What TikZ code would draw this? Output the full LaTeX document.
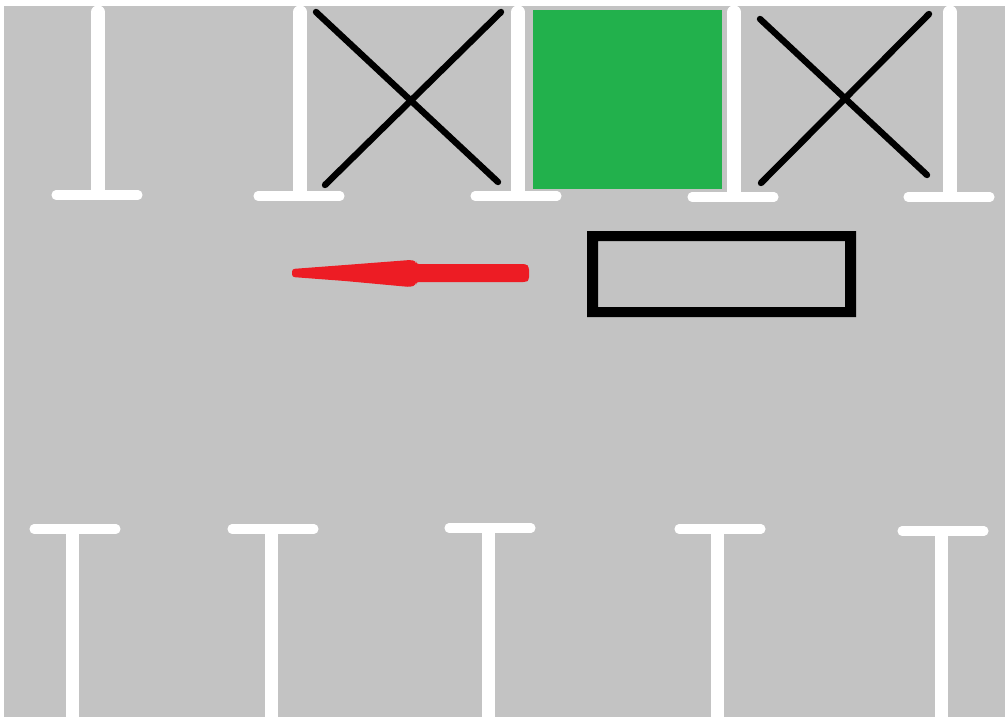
\documentclass[tikz,border=0pt]{standalone}
\usepackage{tikz}
\definecolor{clot}{RGB}{195,195,195}
\definecolor{cfree}{RGB}{34,177,76}
\definecolor{cdir}{RGB}{237,28,36}
\tikzset{
  stem/.style={draw=white, line width=10pt, line cap=round},
  stemcut/.style={draw=white, line width=10pt},
  bar/.style={draw=white, line width=6.8pt, line cap=round},
  taken/.style={draw=black, line width=4.8pt, line cap=round}
}
\begin{document}
\begin{tikzpicture}[x=0.75pt, y=-0.75pt]
    \useasboundingbox (0,0) rectangle (1007,717);
    \fill[white] (0,0) rectangle (1007,717);
    \fill[clot] (4,6) rectangle (1005,717);
    % upper row
    \foreach \sx/\bx/\by in {98/97/195, 300/299/196, 518/516/196, 734/733/197, 950/949/197} {
      \draw[stem] (\sx,12) -- (\sx,\by-3);
      \draw[bar] (\bx-41,\by) -- (\bx+41,\by);
    }
    % lower row
    \foreach \sx/\bx/\by in {72.5/75/529, 271.5/273/529, 488.5/490/528, 717.5/720/529, 941.5/943/531} {
      \draw[stemcut] (\sx,\by) -- (\sx,717);
      \draw[bar] (\bx-41,\by) -- (\bx+41,\by);
    }
    % free bay
    \fill[cfree] (533,10) rectangle (722,189);
    % blocked bays
    \draw[taken] (316,12) -- (498,182);
    \draw[taken] (501,12) -- (325,185);
    \draw[taken] (760,19) -- (927,175);
    \draw[taken] (929,14) -- (761,183);
    % car
    \fill[black, even odd rule] (587,231) rectangle (856,317) (598,241) rectangle (845,307);
    % direction
    \fill[cdir, rounded corners=2pt] (292,269) -- (345,265) -- (410,260) -- (416,261) -- (416,264)
      -- (526,264) -- (529,267) -- (529,280) -- (526,282) -- (416,282) -- (416,285)
      -- (410,287) -- (345,281) -- (292,277) -- cycle;
  \end{tikzpicture}
\end{document}
